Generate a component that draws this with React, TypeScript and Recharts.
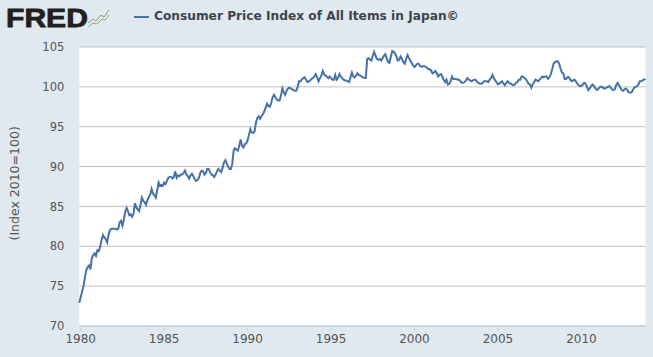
import { LineChart, Line, XAxis, YAxis, CartesianGrid } from 'recharts';

const TITLE = 'Consumer Price Index of All Items in Japan©';
const Y_LABEL = '(Index 2010=100)';
const FIRST_YEAR = 1980;
const X_TICKS = [1980, 1985, 1990, 1995, 2000, 2005, 2010];
const Y_TICKS = [70, 75, 80, 85, 90, 95, 100, 105];

// monthly readings, one row per year from 1980 to 2013
const CPI = [
  72.9, 73.6, 74.3, 75.0, 76.0, 77.0, 77.4, 77.6, 77.1, 78.5, 78.9, 79.1,
  78.8, 79.5, 79.4, 79.9, 80.8, 81.4, 81.1, 80.9, 80.5, 81.4, 82.0, 82.2,
  82.2, 82.2, 82.2, 82.1, 82.2, 83.0, 83.2, 82.6, 83.3, 84.3, 84.8, 84.4,
  83.9, 84.0, 83.7, 84.1, 85.4, 84.9, 84.6, 84.4, 85.2, 86.1, 85.7, 85.5,
  85.2, 85.8, 86.2, 86.5, 87.2, 86.6, 86.4, 86.1, 87.0, 88.0, 87.6, 87.7,
  87.6, 88.0, 87.8, 88.2, 88.6, 88.7, 88.7, 88.5, 88.7, 89.4, 88.6, 88.9,
  88.8, 89.0, 89.0, 89.2, 89.5, 89.0, 88.8, 88.5, 88.9, 89.1, 88.8, 88.4,
  88.2, 88.3, 88.6, 89.2, 89.5, 89.4, 89.0, 89.2, 89.7, 89.7, 89.3, 89.0,
  88.9, 88.7, 89.0, 89.4, 89.7, 89.5, 89.3, 89.8, 90.5, 90.8, 90.4, 90.0,
  89.7, 89.7, 90.4, 92.0, 92.3, 92.1, 92.0, 92.6, 93.4, 92.6, 92.4, 92.8,
  92.9, 93.3, 94.0, 94.7, 94.3, 94.2, 94.4, 95.5, 96.1, 96.3, 96.0, 96.3,
  96.6, 96.9, 97.4, 97.9, 97.6, 97.5, 98.0, 98.7, 99.0, 98.7, 98.4, 98.3,
  98.3, 98.9, 99.8, 99.3, 99.0, 99.5, 99.8, 99.9, 99.8, 99.7, 99.6, 99.5,
  99.5, 100.0, 100.7, 100.7, 100.9, 101.1, 101.2, 100.9, 100.6, 100.7, 100.8, 101.0,
  101.1, 101.3, 101.6, 101.2, 100.7, 101.1, 101.4, 102.0, 101.6, 101.4, 101.3, 101.1,
  101.3, 101.1, 100.9, 100.9, 101.5, 100.9, 101.1, 101.6, 101.3, 101.1, 100.9, 100.8,
  100.8, 100.7, 100.6, 101.2, 101.8, 101.3, 101.2, 101.4, 101.7, 101.5, 101.4, 101.3,
  101.2, 101.1, 101.1, 103.5, 103.6, 103.4, 103.3, 103.9, 104.4, 103.9, 103.5, 103.4,
  103.5, 103.3, 103.6, 103.9, 104.1, 103.6, 103.1, 103.0, 103.8, 104.5, 104.4, 104.2,
  103.8, 103.3, 103.4, 103.8, 103.5, 103.1, 102.9, 103.5, 104.0, 103.6, 103.3, 103.0,
  102.7, 102.5, 102.7, 102.9, 102.9, 102.6, 102.5, 102.6, 102.6, 102.5, 102.4, 102.2,
  102.2, 102.0, 101.7, 101.8, 102.0, 101.7, 101.3, 101.5, 101.6, 101.3, 100.9, 100.6,
  100.9, 100.3, 100.4, 100.7, 101.3, 101.0, 101.0, 101.0, 100.9, 100.9, 100.7, 100.5,
  100.5, 100.6, 100.8, 101.1, 100.9, 100.8, 100.7, 100.8, 100.9, 100.9, 100.6, 100.5,
  100.4, 100.4, 100.5, 100.7, 100.7, 100.7, 100.6, 100.9, 101.1, 101.5, 101.1, 100.8,
  100.6, 100.3, 100.4, 100.6, 100.7, 100.4, 100.2, 100.5, 100.7, 100.5, 100.4, 100.3,
  100.2, 100.3, 100.5, 100.6, 100.9, 100.9, 101.3, 101.3, 101.1, 101.0, 100.7, 100.4,
  100.3, 99.9, 100.3, 100.6, 100.9, 100.8, 100.7, 100.9, 101.1, 101.3, 101.2, 101.3,
  101.3, 101.0, 101.2, 101.6, 102.2, 102.9, 103.1, 103.2, 103.2, 102.9, 102.3, 101.8,
  101.7, 101.0, 101.0, 101.2, 101.2, 100.9, 100.7, 100.8, 100.9, 100.7, 100.4, 100.2,
  100.1, 100.1, 100.3, 100.5, 100.4, 100.0, 99.6, 99.8, 100.1, 100.3, 100.1, 99.8,
  99.6, 99.7, 99.9, 100.0, 100.0, 99.8, 99.8, 99.9, 100.0, 100.1, 99.9, 99.7,
  99.6, 99.7, 100.2, 100.5, 100.2, 99.9, 99.6, 99.5, 99.7, 99.8, 99.6, 99.3,
  99.3, 99.3, 99.6, 99.9, 100.0, 100.1, 100.3, 100.7, 100.7, 100.8, 100.9, 101.0,
];

// the year ticks sit one month right of the first point in the original
const chartData = CPI.map((value, i) => ({ date: FIRST_YEAR + (i - 1) / 12, value }));

const BG = '#e0e8f0';
const TEXT = '#555';
const LINE = '#4572a7';

const FredLogo = () => (
  <>
    <span
      style={{
        position: 'absolute',
        left: 6,
        top: 3,
        fontFamily: 'Liberation Sans',
        fontWeight: 700,
        fontSize: 25.5,
        lineHeight: '30px',
        color: '#231f20',
        WebkitTextStroke: '0.8px #231f20',
        transform: 'scaleX(1.18)',
        transformOrigin: 'left center',
      }}
    >
      FRED
    </span>
    <svg width={23} height={20} style={{ position: 'absolute', left: 87, top: 8 }}>
      <polyline points="1,15 6,11 9,13 14,7 17,9 22,2" fill="none" stroke="#8f9a7d" strokeWidth={1} />
      <polyline points="1,19 6,15 10,16 15,11 18,12 22,7" fill="none" stroke="#9aa86f" strokeWidth={1} />
    </svg>
  </>
);

const App = () => (
  <div style={{ position: 'absolute', left: 0, top: 0, width: 653, height: 357, background: BG, overflow: 'hidden' }}>
    <FredLogo />
    <div style={{ position: 'absolute', left: 134, top: 16, width: 15, height: 2, background: LINE }} />
    <div
      style={{
        position: 'absolute',
        left: 154,
        top: 8,
        fontFamily: 'DejaVu Sans',
        fontWeight: 700,
        fontSize: 12.2,
        lineHeight: '16px',
        color: '#3e444d',
        whiteSpace: 'nowrap',
      }}
    >
      {TITLE}
    </div>
    <LineChart width={653} height={357} data={chartData} margin={{ top: 47, right: 7.5, bottom: 0, left: 0 }}>
      <CartesianGrid horizontal vertical={false} fill="#fff" stroke="#c0c0c0" strokeWidth={1} />
      <XAxis
        dataKey="date"
        type="number"
        domain={[FIRST_YEAR - 1 / 12, 2013.84]}
        ticks={X_TICKS}
        interval={0}
        height={31}
        tickSize={5}
        tickMargin={3}
        stroke="#c0d0e0"
        tick={{ fill: TEXT, fontFamily: 'DejaVu Sans', fontSize: 12 }}
      />
      <YAxis
        domain={[70, 105]}
        ticks={Y_TICKS}
        interval={0}
        width={79.3}
        axisLine={false}
        tickLine={false}
        tickMargin={15}
        tickSize={0}
        tick={{ fill: TEXT, fontFamily: 'DejaVu Sans', fontSize: 11.5 }}
        label={{
          value: Y_LABEL,
          angle: -90,
          position: 'insideLeft',
          offset: 0,
          dx: 15,
          dy: 54,
          fill: TEXT,
          fontFamily: 'DejaVu Sans',
          fontSize: 12.5,
        }}
      />
      <Line dataKey="value" type="linear" stroke={LINE} strokeWidth={2} dot={false} isAnimationActive={false} />
    </LineChart>
  </div>
);

export default App;
